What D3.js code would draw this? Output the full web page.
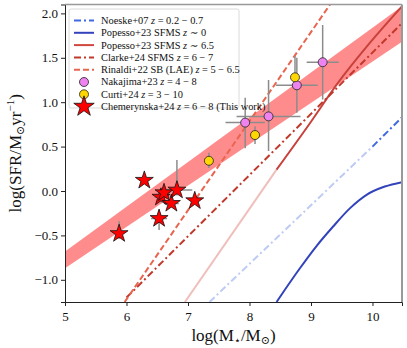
<!DOCTYPE html>
<html>
<head>
<meta charset="utf-8">
<script src="https://cdn.jsdelivr.net/npm/d3@7"></script>
<style>
  body { margin: 0; background: #fff; }
  svg { font-family: "Liberation Serif", "DejaVu Serif", serif; }
</style>
</head>
<body>
<svg width="407" height="348"></svg>
<script>
// ---- data ----
var xTicks = [5, 6, 7, 8, 9, 10],
    yTicks = [-1.0, -0.5, 0.0, 0.5, 1.0, 1.5, 2.0];

// shaded relation (this work)
var bandX = [5, 10.48],
    bandLow = [-0.87, 1.68],
    bandHigh = [-0.68, 2.08];

var noeske = [[7.35, -1.25], [10.0, 0.50], [10.48, 0.83]];          // light below 10
var popesso0 = [[8.44, -1.25], [8.82, -0.87], [9.09, -0.62], [9.36, -0.40],
                [9.64, -0.19], [9.91, -0.04], [10.2, 0.05], [10.48, 0.10]];
var popesso65 = [[6.95, -1.25], [8.44, 0.24], [9.0, 0.78], [9.42, 1.20],
                 [9.96, 1.67], [10.48, 2.08]];                      // light below 8.45
var clarke = [[6.0, -1.20], [10.48, 1.89]];
var rinaldi = [[5.97, -1.25], [9.31, 2.1]];

// Nakajima+23: x, y, xerr, yerr-, yerr+
var nakajima = [
  [7.93, 0.77, 0.32, 0.29, 0.28],
  [8.31, 0.84, 0.52, 0.39, 0.41],
  [8.77, 1.19, 0.34, 0.31, 0.31],
  [9.19, 1.45, 0.26, 0.42, 0.42]
];
// Curti+24: x, y, yerr-, yerr+
var curti = [
  [7.34, 0.34, 0.08, 0.09],
  [8.09, 0.63, 0.10, 0.10],
  [8.74, 1.28, 0.12, 0.24]
];
// Chemerynska+24 (this work): x, y, xerr, yerr-, yerr+
var stars = [
  [5.88, -0.48, 0.05, 0.06, 0.14],
  [6.29, 0.12, 0.0, 0.0, 0.0],
  [6.53, -0.31, 0.13, 0.13, 0.10],
  [6.56, -0.07, 0.10, 0.06, 0.06],
  [6.61, -0.02, 0.10, 0.06, 0.06],
  [6.73, -0.14, 0.12, 0.05, 0.05],
  [6.82, 0.01, 0.25, 0.06, 0.34],
  [7.11, -0.11, 0.06, 0.04, 0.04]
];

var legendItems = [
  {pre: "Noeske+07 ", post: " = 0.2 \u2212 0.7", type: "line", color: "#4169e1", dash: "7,3,2,3"},
  {pre: "Popesso+23 SFMS ", post: " \u223c 0", type: "line", color: "#3344bb", dash: null},
  {pre: "Popesso+23 SFMS ", post: " \u223c 6.5", type: "line", color: "#d0473d", dash: null},
  {pre: "Clarke+24 SFMS ", post: " = 6 \u2212 7", type: "line", color: "#c0392b", dash: "7,3,2,3"},
  {pre: "Rinaldi+22 SB (LAE) ", post: " = 5 \u2212 6.5", type: "line", color: "#e8654f", dash: "6,3"},
  {pre: "Nakajima+23 ", post: " = 4 \u2212 8", type: "circle", color: "#ee82ee"},
  {pre: "Curti+24 ", post: " = 3 \u2212 10", type: "circle", color: "#ffd700"},
  {pre: "Chemerynska+24 ", post: " = 6 \u2212 8 (This work)", type: "star", color: "#ff0000"}
];

// ---- layout ----
var svg = d3.select("svg"),
    margin = {top: 4.5, right: 5, bottom: 46, left: 65},
    width = 407 - margin.left - margin.right,
    height = 348 - margin.top - margin.bottom;

var x = d3.scaleLinear().domain([5, 10.48]).range([0, width]),
    y = d3.scaleLinear().domain([-1.25, 2.1]).range([height, 0]);

var g = svg.append("g").attr("transform", "translate(" + margin.left + "," + margin.top + ")");

g.append("clipPath").attr("id", "clip")
  .append("rect").attr("width", width).attr("height", height);

var plot = g.append("g").attr("clip-path", "url(#clip)");
var line = d3.line().x(function(d) { return x(d[0]); }).y(function(d) { return y(d[1]); });

// band
var bandData = bandX.map(function(v, i) { return [v, bandLow[i], bandHigh[i]]; });
plot.append("path")
  .datum(bandData)
  .attr("d", d3.area().x(function(d) { return x(d[0]); })
    .y0(function(d) { return y(d[1]); }).y1(function(d) { return y(d[2]); }))
  .attr("fill", "#ff0000").attr("fill-opacity", 0.45).attr("stroke", "none");

// Noeske (faded below 10)
plot.append("path").datum(noeske.slice(0, 2)).attr("d", line)
  .attr("fill", "none").attr("stroke", "#4169e1").attr("stroke-opacity", 0.35)
  .attr("stroke-width", 2).attr("stroke-dasharray", "7,3,2,3");
plot.append("path").datum(noeske.slice(1)).attr("d", line)
  .attr("fill", "none").attr("stroke", "#4169e1")
  .attr("stroke-width", 2).attr("stroke-dasharray", "7,3,2,3");

// Popesso z~0
plot.append("path").datum(popesso0).attr("d", line.curve(d3.curveMonotoneX))
  .attr("fill", "none").attr("stroke", "#3344bb").attr("stroke-width", 2);
line.curve(d3.curveLinear);

// Popesso z~6.5 (faded below 8.45)
plot.append("path").datum(popesso65.slice(0, 2)).attr("d", line)
  .attr("fill", "none").attr("stroke", "#d0473d").attr("stroke-opacity", 0.35).attr("stroke-width", 2);
plot.append("path").datum(popesso65.slice(1)).attr("d", line.curve(d3.curveMonotoneX))
  .attr("fill", "none").attr("stroke", "#c8413b").attr("stroke-width", 2);
line.curve(d3.curveLinear);

// Clarke
plot.append("path").datum(clarke).attr("d", line)
  .attr("fill", "none").attr("stroke", "#c0392b").attr("stroke-width", 2)
  .attr("stroke-dasharray", "7,3,2,3");

// Rinaldi
plot.append("path").datum(rinaldi).attr("d", line)
  .attr("fill", "none").attr("stroke", "#e8654f").attr("stroke-width", 2)
  .attr("stroke-dasharray", "6,3");

// error bars
var errColor = "#8c8c8c";
function errBars(data, xi, ylo, yhi) {
  data.forEach(function(d) {
    var xe = xi == null ? 0 : d[xi];
    if (xe > 0)
      plot.append("line").attr("x1", x(d[0] - xe)).attr("x2", x(d[0] + xe))
        .attr("y1", y(d[1])).attr("y2", y(d[1]))
        .attr("stroke", errColor).attr("stroke-width", 1.5);
    if (d[ylo] > 0 || d[yhi] > 0)
      plot.append("line").attr("x1", x(d[0])).attr("x2", x(d[0]))
        .attr("y1", y(d[1] - d[ylo])).attr("y2", y(d[1] + d[yhi]))
        .attr("stroke", errColor).attr("stroke-width", 1.5);
  });
}
errBars(nakajima, 2, 3, 4);
errBars(curti, null, 2, 3);
errBars(stars, 2, 3, 4);

plot.selectAll(".nak").data(nakajima).enter().append("circle")
  .attr("cx", function(d) { return x(d[0]); }).attr("cy", function(d) { return y(d[1]); })
  .attr("r", 4.5).attr("fill", "#ee82ee").attr("stroke", "#222").attr("stroke-width", 0.8);

plot.selectAll(".cur").data(curti).enter().append("circle")
  .attr("cx", function(d) { return x(d[0]); }).attr("cy", function(d) { return y(d[1]); })
  .attr("r", 4.5).attr("fill", "#ffd700").attr("stroke", "#222").attr("stroke-width", 0.8);

var star = d3.symbol().type(d3.symbolStar).size(100);
plot.selectAll(".star").data(stars).enter().append("path")
  .attr("d", star)
  .attr("transform", function(d) { return "translate(" + x(d[0]) + "," + y(d[1]) + ")"; })
  .attr("fill", "#ff0000").attr("stroke", "#111").attr("stroke-width", 0.8);

// axes
var xAxis = g.append("g").attr("transform", "translate(0," + height + ")")
  .call(d3.axisBottom(x).tickValues(xTicks).tickFormat(d3.format("d")).tickSizeOuter(0).tickSize(4));
var yAxis = g.append("g")
  .call(d3.axisLeft(y).tickValues(yTicks).tickSizeOuter(0).tickSize(4)
    .tickFormat(function(d) { return d3.format(".1f")(d).replace("-", "\u2212"); }));
[xAxis, yAxis].forEach(function(a) {
  a.attr("font-family", null);
  a.selectAll("text").attr("font-family", "Liberation Serif, serif").attr("font-size", 13).attr("fill", "#111");
  a.selectAll("line").attr("stroke", "#222");
  a.select(".domain").attr("stroke", "#222").attr("stroke-width", 1);
});
xAxis.selectAll("text").attr("dy", "0.9em");

// top / right spines
g.append("line").attr("x1", 0).attr("x2", width).attr("y1", 0).attr("y2", 0)
  .attr("stroke", "#999").attr("stroke-width", 1.5);
g.append("line").attr("x1", width).attr("x2", width).attr("y1", 0).attr("y2", height)
  .attr("stroke", "#999").attr("stroke-width", 2);

// axis labels
var xl = svg.append("text").attr("x", margin.left + width / 2).attr("y", 341)
  .attr("text-anchor", "middle").attr("font-size", 17).attr("fill", "#111");
xl.append("tspan").text("log(M");
xl.append("tspan").attr("font-size", 11).attr("dy", 3).text("\u22c6");
xl.append("tspan").attr("dy", -3).text("/M");
xl.append("tspan").attr("font-size", 11).attr("dy", 3).text("\u2299");
xl.append("tspan").attr("dy", -3).text(")");

var yl = svg.append("text")
  .attr("transform", "translate(21," + (margin.top + height / 2) + ") rotate(-90)")
  .attr("text-anchor", "middle").attr("font-size", 17).attr("fill", "#111");
yl.append("tspan").text("log(SFR/M");
yl.append("tspan").attr("font-size", 11).attr("dy", 3).text("\u2299");
yl.append("tspan").attr("dy", -3).text("yr");
yl.append("tspan").attr("font-size", 11).attr("dy", -7).text("\u22121");
yl.append("tspan").attr("dy", 7).text(")");

// legend
var leg = g.append("g").attr("transform", "translate(4,4.5)");
leg.append("rect").attr("width", 170).attr("height", 99).attr("rx", 2)
  .attr("fill", "#fff").attr("fill-opacity", 0.85).attr("stroke", "#d0d0d0").attr("stroke-width", 0.8);
var rows = leg.selectAll(".row").data(legendItems).enter().append("g")
  .attr("transform", function(d, i) { return "translate(0," + (11.5 + i * 12.3) + ")"; });
rows.each(function(d) {
  var r = d3.select(this);
  if (d.type === "line") {
    r.append("line").attr("x1", 5).attr("x2", 25).attr("y1", 0).attr("y2", 0)
      .attr("stroke", d.color).attr("stroke-width", 2).attr("stroke-dasharray", d.dash);
  } else if (d.type === "circle") {
    r.append("circle").attr("cx", 15).attr("cy", 0).attr("r", 4.5)
      .attr("fill", d.color).attr("stroke", "#222").attr("stroke-width", 0.8);
  } else {
    r.append("path").attr("d", d3.symbol().type(d3.symbolStar).size(130))
      .attr("transform", "translate(15,0)")
      .attr("fill", d.color).attr("stroke", "#111").attr("stroke-width", 0.8);
  }
  var t = r.append("text").attr("x", 32).attr("y", 3.4).attr("font-size", 10.4).attr("fill", "#111");
  t.append("tspan").text(d.pre);
  t.append("tspan").attr("font-style", "italic").text("z");
  t.append("tspan").text(d.post);
});
</script>
</body>
</html>
